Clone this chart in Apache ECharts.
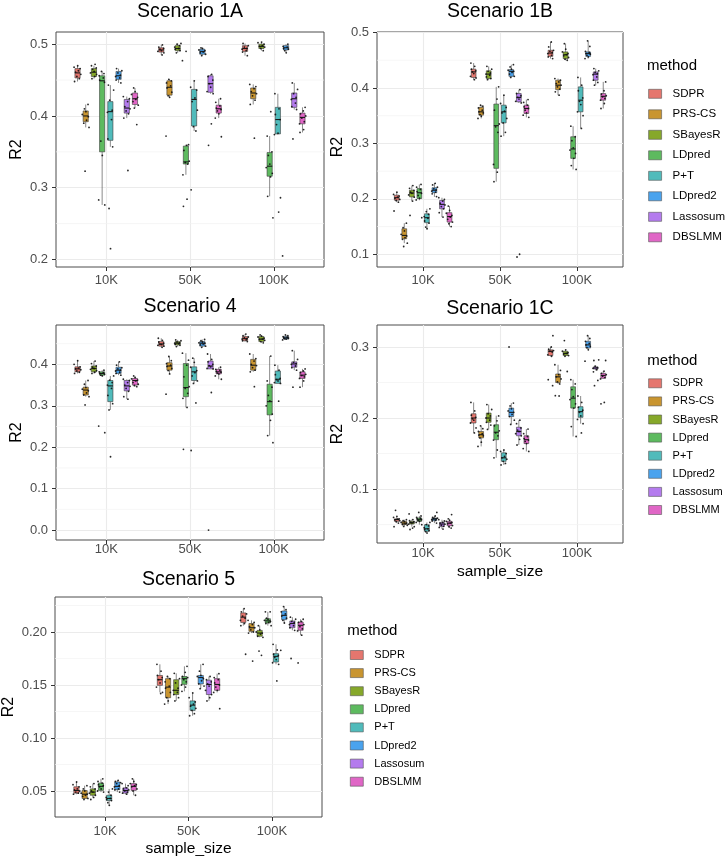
<!DOCTYPE html>
<html><head><meta charset="utf-8">
<script src="https://cdn.jsdelivr.net/npm/echarts@6/dist/echarts.min.js"></script>
<style>html,body{margin:0;padding:0;background:#fff}#c{width:727px;height:856px}</style>
</head><body><div id="c"></div>
<script>
// ---------------- data ----------------
const methods = ['SDPR','PRS-CS','SBayesR','LDpred','P+T','LDpred2','Lassosum','DBSLMM'];
const sampleSizes = ['10K','50K','100K'];
const colors = ['#E5766E','#C99530','#86A82A','#5DBA5F','#50BBBB','#4AA3EE','#B47BEE','#E066C6'];

// box stats per method, per sample size: [lower whisker, Q1, median, Q3, upper whisker]
const box1A = [
 [[0.448,0.453,0.460,0.466,0.470],[0.485,0.489,0.492,0.495,0.499],[0.484,0.490,0.494,0.498,0.501]],
 [[0.384,0.392,0.400,0.407,0.416],[0.426,0.429,0.440,0.449,0.451],[0.416,0.424,0.432,0.439,0.444]],
 [[0.452,0.455,0.461,0.466,0.470],[0.488,0.491,0.494,0.498,0.501],[0.491,0.494,0.497,0.500,0.503]],
 [[0.276,0.350,0.449,0.456,0.462],[0.318,0.333,0.336,0.358,0.360],[0.288,0.316,0.330,0.349,0.372]],
 [[0.357,0.366,0.406,0.420,0.443],[0.379,0.386,0.423,0.437,0.449],[0.374,0.375,0.395,0.412,0.431]],
 [[0.446,0.451,0.456,0.462,0.466],[0.484,0.486,0.490,0.493,0.495],[0.488,0.492,0.495,0.498,0.500]],
 [[0.397,0.404,0.411,0.423,0.427],[0.431,0.433,0.445,0.456,0.458],[0.409,0.412,0.424,0.432,0.446]],
 [[0.411,0.416,0.424,0.432,0.439],[0.397,0.404,0.410,0.415,0.424],[0.377,0.389,0.398,0.404,0.412]]
];
const pts1A = [
 [[0.448,0.452,0.455,0.458,0.461,0.463,0.466,0.468,0.470],[0.485,0.488,0.490,0.491,0.493,0.494,0.496,0.499],[0.484,0.489,0.491,0.493,0.494,0.496,0.498,0.501]],
 [[0.323,0.384,0.390,0.394,0.399,0.402,0.406,0.410,0.416],[0.372,0.426,0.428,0.433,0.439,0.442,0.446,0.449,0.451],[0.369,0.416,0.422,0.428,0.431,0.434,0.438,0.441,0.444]],
 [[0.452,0.455,0.458,0.460,0.462,0.465,0.467,0.470,0.472],[0.488,0.491,0.493,0.494,0.496,0.498,0.500,0.501],[0.491,0.494,0.496,0.497,0.498,0.500,0.502,0.503]],
 [[0.276,0.283,0.345,0.365,0.447,0.450,0.453,0.456,0.459,0.462],[0.274,0.284,0.318,0.333,0.335,0.337,0.352,0.359,0.360,0.477,0.490],[0.258,0.288,0.315,0.320,0.328,0.333,0.345,0.350,0.372,0.406]],
 [[0.215,0.271,0.357,0.368,0.395,0.405,0.408,0.422,0.436,0.443],[0.297,0.379,0.385,0.408,0.420,0.425,0.436,0.440,0.449],[0.266,0.286,0.374,0.376,0.388,0.395,0.402,0.410,0.431]],
 [[0.446,0.450,0.453,0.455,0.457,0.460,0.463,0.466],[0.484,0.486,0.488,0.489,0.491,0.492,0.494,0.495],[0.205,0.488,0.491,0.493,0.494,0.496,0.497,0.500]],
 [[0.324,0.397,0.403,0.407,0.410,0.413,0.420,0.424,0.427],[0.359,0.389,0.431,0.434,0.440,0.445,0.450,0.455,0.458],[0.368,0.409,0.413,0.418,0.423,0.426,0.431,0.437,0.446]],
 [[0.388,0.411,0.415,0.420,0.423,0.426,0.430,0.434,0.439],[0.371,0.397,0.403,0.407,0.409,0.411,0.414,0.419,0.424],[0.377,0.381,0.389,0.392,0.397,0.400,0.403,0.407,0.412]]
];

const box1B = [
 [[0.194,0.1975,0.202,0.2065,0.212],[0.415,0.419,0.429,0.434,0.445],[0.453,0.457,0.463,0.468,0.483]],
 [[0.120,0.128,0.134,0.146,0.156],[0.345,0.351,0.357,0.365,0.369],[0.387,0.397,0.405,0.414,0.417]],
 [[0.1955,0.2035,0.2105,0.2155,0.224],[0.415,0.417,0.425,0.431,0.439],[0.450,0.453,0.460,0.465,0.480]],
 [[0.1975,0.2005,0.211,0.2185,0.226],[0.231,0.255,0.332,0.371,0.402],[0.253,0.273,0.290,0.312,0.331]],
 [[0.146,0.157,0.166,0.173,0.182],[0.313,0.337,0.357,0.369,0.387],[0.327,0.357,0.378,0.402,0.419]],
 [[0.2035,0.211,0.2155,0.220,0.2285],[0.419,0.421,0.430,0.433,0.442],[0.453,0.457,0.462,0.465,0.485]],
 [[0.167,0.182,0.190,0.197,0.202],[0.373,0.375,0.383,0.390,0.397],[0.405,0.414,0.425,0.429,0.435]],
 [[0.150,0.158,0.168,0.175,0.187],[0.347,0.354,0.363,0.369,0.379],[0.363,0.378,0.385,0.390,0.411]]
];
const pts1B = [
 [[0.178,0.194,0.197,0.199,0.201,0.203,0.205,0.208,0.212],[0.415,0.418,0.421,0.426,0.429,0.431,0.434,0.439,0.445],[0.453,0.456,0.459,0.462,0.464,0.466,0.468,0.474,0.483]],
 [[0.114,0.120,0.127,0.130,0.133,0.136,0.142,0.148,0.156],[0.345,0.349,0.352,0.355,0.357,0.360,0.364,0.367,0.369],[0.387,0.393,0.398,0.402,0.405,0.408,0.411,0.414,0.417]],
 [[0.170,0.196,0.203,0.207,0.210,0.212,0.215,0.219,0.224],[0.415,0.417,0.420,0.423,0.425,0.427,0.430,0.434,0.439],[0.450,0.452,0.455,0.458,0.460,0.462,0.465,0.470,0.480]],
 [[0.166,0.198,0.201,0.206,0.210,0.213,0.217,0.221,0.226],[0.231,0.248,0.262,0.320,0.330,0.335,0.360,0.380,0.402],[0.253,0.260,0.273,0.282,0.288,0.292,0.305,0.312,0.331]],
 [[0.146,0.149,0.156,0.160,0.165,0.168,0.172,0.177,0.182],[0.313,0.320,0.337,0.345,0.355,0.358,0.365,0.372,0.387],[0.327,0.350,0.357,0.370,0.376,0.382,0.395,0.405,0.419]],
 [[0.204,0.209,0.212,0.214,0.216,0.218,0.221,0.225,0.228],[0.419,0.421,0.425,0.428,0.430,0.432,0.434,0.438,0.442],[0.453,0.456,0.459,0.461,0.462,0.464,0.466,0.475,0.485]],
 [[0.167,0.175,0.182,0.186,0.189,0.192,0.196,0.199,0.202],[0.095,0.100,0.373,0.376,0.380,0.383,0.386,0.390,0.397],[0.405,0.410,0.414,0.420,0.424,0.426,0.428,0.431,0.435]],
 [[0.150,0.155,0.158,0.163,0.167,0.170,0.174,0.179,0.187],[0.347,0.351,0.355,0.360,0.363,0.366,0.369,0.374,0.379],[0.363,0.372,0.378,0.381,0.384,0.386,0.389,0.395,0.411]]
];

const box4 = [
 [[0.378,0.382,0.389,0.394,0.409],[0.441,0.444,0.449,0.455,0.463],[0.455,0.457,0.462,0.467,0.473]],
 [[0.322,0.326,0.338,0.345,0.361],[0.377,0.386,0.396,0.404,0.419],[0.382,0.386,0.398,0.412,0.425]],
 [[0.378,0.382,0.390,0.396,0.408],[0.443,0.447,0.451,0.455,0.459],[0.452,0.455,0.461,0.467,0.471]],
 [[0.372,0.374,0.378,0.382,0.386],[0.296,0.322,0.344,0.402,0.427],[0.228,0.278,0.310,0.352,0.420]],
 [[0.290,0.310,0.348,0.361,0.372],[0.354,0.361,0.382,0.394,0.415],[0.354,0.354,0.364,0.384,0.398]],
 [[0.374,0.378,0.386,0.393,0.406],[0.441,0.444,0.451,0.455,0.460],[0.459,0.461,0.464,0.467,0.471]],
 [[0.316,0.336,0.348,0.361,0.364],[0.389,0.389,0.396,0.408,0.425],[0.386,0.393,0.401,0.406,0.433]],
 [[0.346,0.350,0.361,0.366,0.372],[0.364,0.377,0.382,0.388,0.393],[0.345,0.366,0.374,0.382,0.389]]
];
const pts4 = [
 [[0.378,0.381,0.384,0.387,0.389,0.391,0.394,0.400,0.409],[0.441,0.444,0.446,0.448,0.449,0.451,0.454,0.458,0.463],[0.455,0.457,0.459,0.461,0.462,0.464,0.466,0.469,0.473]],
 [[0.302,0.322,0.326,0.331,0.336,0.340,0.344,0.352,0.361],[0.328,0.377,0.385,0.390,0.395,0.398,0.402,0.409,0.419],[0.346,0.382,0.386,0.392,0.397,0.400,0.408,0.414,0.425]],
 [[0.378,0.381,0.385,0.388,0.390,0.393,0.396,0.402,0.408],[0.443,0.446,0.448,0.450,0.451,0.452,0.454,0.457,0.459],[0.452,0.455,0.458,0.460,0.461,0.463,0.466,0.468,0.471]],
 [[0.235,0.251,0.372,0.374,0.376,0.378,0.380,0.382,0.386],[0.195,0.296,0.318,0.330,0.342,0.346,0.370,0.398,0.410,0.427],[0.211,0.228,0.265,0.280,0.300,0.312,0.325,0.345,0.360,0.420]],
 [[0.177,0.290,0.305,0.325,0.342,0.350,0.356,0.362,0.372],[0.192,0.307,0.354,0.360,0.372,0.380,0.385,0.393,0.405,0.415],[0.311,0.354,0.356,0.360,0.363,0.366,0.375,0.386,0.398]],
 [[0.374,0.378,0.381,0.384,0.386,0.389,0.392,0.398,0.406],[0.441,0.444,0.447,0.449,0.451,0.452,0.454,0.457,0.460],[0.459,0.461,0.462,0.463,0.464,0.465,0.467,0.469,0.471]],
 [[0.316,0.322,0.335,0.342,0.347,0.350,0.356,0.361,0.364],[0.000,0.332,0.389,0.390,0.394,0.397,0.400,0.406,0.412,0.425],[0.345,0.386,0.392,0.396,0.400,0.402,0.405,0.412,0.433]],
 [[0.346,0.349,0.352,0.356,0.360,0.362,0.365,0.368,0.372],[0.364,0.372,0.377,0.379,0.381,0.383,0.386,0.388,0.393],[0.345,0.360,0.366,0.370,0.373,0.376,0.380,0.384,0.389]]
];

const box1C = [
 [[0.052,0.0545,0.057,0.058,0.0615],[0.179,0.193,0.200,0.206,0.222],[0.287,0.288,0.294,0.296,0.300]],
 [[0.0474,0.050,0.052,0.0545,0.0568],[0.160,0.172,0.1765,0.181,0.189],[0.248,0.250,0.258,0.262,0.275]],
 [[0.047,0.0507,0.0526,0.0545,0.057],[0.184,0.194,0.200,0.207,0.219],[0.287,0.288,0.291,0.294,0.296]],
 [[0.0498,0.0545,0.0568,0.0592,0.062],[0.144,0.1695,0.180,0.1906,0.2033],[0.174,0.214,0.228,0.244,0.254]],
 [[0.038,0.0404,0.044,0.0498,0.053],[0.134,0.139,0.144,0.151,0.155],[0.192,0.201,0.209,0.216,0.231]],
 [[0.052,0.0554,0.0577,0.0592,0.062],[0.191,0.202,0.208,0.214,0.221],[0.296,0.2986,0.303,0.308,0.316]],
 [[0.0436,0.0474,0.0507,0.053,0.0568],[0.162,0.175,0.181,0.187,0.197],[0.267,0.269,0.2705,0.272,0.274]],
 [[0.045,0.0483,0.052,0.0545,0.058],[0.153,0.164,0.1695,0.175,0.1845],[0.255,0.256,0.260,0.263,0.266]]
];
const pts1C = [
 [[0.047,0.052,0.054,0.0555,0.0565,0.0575,0.058,0.060,0.0615,0.070],[0.179,0.186,0.193,0.197,0.199,0.201,0.204,0.210,0.222],[0.2455,0.254,0.287,0.289,0.293,0.294,0.295,0.297,0.300,0.316]],
 [[0.0474,0.049,0.050,0.051,0.052,0.053,0.054,0.0555,0.0568],[0.160,0.166,0.172,0.175,0.176,0.178,0.181,0.185,0.189],[0.231,0.2315,0.248,0.251,0.255,0.258,0.261,0.267,0.275]],
 [[0.043,0.045,0.047,0.0505,0.052,0.053,0.054,0.0555,0.057,0.065],[0.184,0.190,0.194,0.197,0.200,0.203,0.206,0.212,0.219],[0.2655,0.287,0.288,0.290,0.291,0.292,0.294,0.296,0.309]],
 [[0.0498,0.053,0.0545,0.056,0.057,0.058,0.059,0.060,0.062,0.067],[0.144,0.155,0.169,0.175,0.179,0.182,0.189,0.196,0.203],[0.174,0.188,0.214,0.220,0.226,0.230,0.240,0.248,0.254]],
 [[0.038,0.040,0.0415,0.043,0.044,0.0455,0.048,0.050,0.053],[0.134,0.136,0.139,0.142,0.144,0.146,0.150,0.153,0.155],[0.179,0.192,0.198,0.203,0.208,0.211,0.215,0.222,0.231]],
 [[0.052,0.055,0.056,0.057,0.058,0.0585,0.059,0.060,0.062,0.067],[0.191,0.197,0.202,0.205,0.208,0.210,0.213,0.217,0.221,0.300],[0.280,0.296,0.299,0.301,0.303,0.305,0.308,0.312,0.316]],
 [[0.0436,0.046,0.0475,0.049,0.0505,0.052,0.053,0.055,0.0568],[0.162,0.170,0.175,0.178,0.181,0.183,0.186,0.192,0.197],[0.2455,0.253,0.265,0.268,0.270,0.271,0.273,0.282,0.281]],
 [[0.045,0.047,0.0485,0.051,0.052,0.053,0.0545,0.056,0.058,0.064],[0.153,0.157,0.164,0.167,0.169,0.171,0.174,0.178,0.1845],[0.220,0.222,0.255,0.257,0.259,0.261,0.263,0.266,0.281]]
];

const box5 = [
 [[0.047,0.048,0.0505,0.054,0.0585],[0.143,0.1497,0.155,0.159,0.1695],[0.206,0.209,0.214,0.218,0.222]],
 [[0.042,0.043,0.047,0.0505,0.055],[0.132,0.138,0.148,0.156,0.158],[0.199,0.2006,0.204,0.208,0.211]],
 [[0.044,0.046,0.049,0.052,0.057],[0.135,0.141,0.145,0.155,0.161],[0.195,0.196,0.199,0.2015,0.206]],
 [[0.049,0.0506,0.0544,0.0575,0.0615],[0.144,0.1506,0.156,0.158,0.1676],[0.206,0.2085,0.2105,0.2125,0.219]],
 [[0.0365,0.041,0.043,0.046,0.052],[0.121,0.126,0.131,0.135,0.1425],[0.1695,0.1717,0.177,0.1796,0.1884]],
 [[0.049,0.0513,0.0544,0.0585,0.060],[0.1465,0.151,0.157,0.159,0.1695],[0.2085,0.2116,0.2157,0.2198,0.224]],
 [[0.047,0.048,0.0505,0.053,0.057],[0.135,0.141,0.1505,0.1545,0.158],[0.2016,0.204,0.208,0.2104,0.214]],
 [[0.046,0.0506,0.0544,0.057,0.0615],[0.143,0.145,0.1505,0.156,0.1607],[0.197,0.2016,0.2063,0.2094,0.212]]
];
const pts5 = [
 [[0.047,0.048,0.049,0.050,0.051,0.052,0.054,0.056,0.0585],[0.142,0.143,0.148,0.152,0.155,0.157,0.159,0.163,0.1695],[0.179,0.206,0.208,0.211,0.213,0.215,0.217,0.219,0.222]],
 [[0.042,0.043,0.045,0.046,0.047,0.048,0.050,0.052,0.055],[0.132,0.135,0.138,0.143,0.147,0.149,0.153,0.156,0.158],[0.1726,0.199,0.200,0.202,0.204,0.205,0.207,0.209,0.211]],
 [[0.042,0.044,0.046,0.048,0.049,0.050,0.052,0.054,0.057],[0.135,0.138,0.141,0.143,0.145,0.147,0.152,0.156,0.161],[0.178,0.182,0.195,0.196,0.198,0.199,0.200,0.202,0.206]],
 [[0.049,0.050,0.052,0.054,0.055,0.056,0.0575,0.059,0.0615],[0.144,0.148,0.150,0.153,0.155,0.157,0.158,0.162,0.1676],[0.206,0.208,0.209,0.210,0.211,0.212,0.213,0.219,0.219]],
 [[0.0365,0.039,0.041,0.042,0.043,0.044,0.046,0.049,0.052],[0.121,0.123,0.126,0.128,0.130,0.132,0.134,0.138,0.1425],[0.1538,0.1695,0.171,0.174,0.176,0.178,0.179,0.183,0.1884]],
 [[0.049,0.051,0.052,0.054,0.055,0.057,0.058,0.059,0.060],[0.1465,0.149,0.151,0.154,0.156,0.158,0.159,0.163,0.1695],[0.1827,0.2085,0.211,0.213,0.215,0.217,0.219,0.221,0.224]],
 [[0.047,0.048,0.049,0.050,0.051,0.052,0.053,0.055,0.057],[0.135,0.138,0.141,0.145,0.149,0.151,0.153,0.155,0.158],[0.175,0.2016,0.204,0.206,0.207,0.209,0.210,0.212,0.214]],
 [[0.046,0.050,0.052,0.054,0.055,0.056,0.057,0.059,0.0615],[0.1277,0.143,0.145,0.148,0.150,0.152,0.155,0.157,0.1607],[0.1708,0.197,0.201,0.203,0.205,0.207,0.209,0.210,0.212]]
];

// tick values
const yTicks1A = [0.2,0.3,0.4,0.5];            const yMinor1A = [0.25,0.35,0.45];
const yTicks1B = [0.1,0.2,0.3,0.4,0.5];        const yMinor1B = [0.15,0.25,0.35,0.45];
const yTicks4  = [0.0,0.1,0.2,0.3,0.4];        const yMinor4  = [0.05,0.15,0.25,0.35,0.45];
const yTicks1C = [0.1,0.2,0.3];                const yMinor1C = [0.05,0.15,0.25];
const yTicks5  = [0.05,0.10,0.15,0.20];        const yMinor5  = [0.075,0.125,0.175,0.225];
const xTicks = [1,2,3];

// ---------------- layout / style ----------------
const FONT = '"Liberation Sans", Arial, Helvetica, sans-serif';
const DODGE = 0.098;     // distance between dodged boxes (x units)
const BOX_HALF = 0.031;  // half box width (x units)
const JITTER = [-0.36,0.22,-0.08,0.40,-0.24,0.10,0.32,-0.42,0.02,-0.16,0.28,-0.30,0.14]; // in DODGE units

const panels = [
 {title:'Scenario 1A', box:box1A, pts:pts1A, yT:yTicks1A, yM:yMinor1A, dec:1, yr:[0.1895,0.517],
  grid:{left:56,top:32,width:268,height:235}, tY:12, r2:[16.7,149.5], xm:7, xt:null},
 {title:'Scenario 1B', box:box1B, pts:pts1B, yT:yTicks1B, yM:yMinor1B, dec:1, yr:[0.077,0.501],
  grid:{left:377,top:32,width:246,height:235}, tY:12, r2:[338,147], xm:7, xt:null},
 {title:'Scenario 4', box:box4, pts:pts4, yT:yTicks4, yM:yMinor4, dec:1, yr:[-0.024,0.495],
  grid:{left:56,top:325,width:268,height:215}, tY:307, r2:[16.7,432.5], xm:3, xt:null},
 {title:'Scenario 1C', box:box1C, pts:pts1C, yT:yTicks1C, yM:yMinor1C, dec:1, yr:[0.024,0.331],
  grid:{left:377,top:325,width:246,height:218}, tY:308.5, r2:[338,434], xm:3.5, xt:572},
 {title:'Scenario 5', box:box5, pts:pts5, yT:yTicks5, yM:yMinor5, dec:2, yr:[0.0255,0.233],
  grid:{left:55,top:597,width:267,height:220}, tY:579.5, r2:[8.5,707], xm:7.5, xt:849}
];

function renderBox(params, api) {
  const x = api.value(0);
  const lo = api.coord([x, api.value(1)]);
  const q1 = api.coord([x, api.value(2)]);
  const md = api.coord([x, api.value(3)]);
  const q3 = api.coord([x, api.value(4)]);
  const hi = api.coord([x, api.value(5)]);
  const hw = api.size([BOX_HALF, 0])[0];
  const color = api.visual('color');
  const ls = {stroke:'#3a3a3a', lineWidth:0.6};
  return {type:'group', children:[
    {type:'line', shape:{x1:lo[0],y1:lo[1],x2:q1[0],y2:q1[1]}, style:ls},
    {type:'line', shape:{x1:q3[0],y1:q3[1],x2:hi[0],y2:hi[1]}, style:ls},
    {type:'rect', shape:{x:q1[0]-hw, y:q3[1], width:2*hw, height:Math.max(q1[1]-q3[1],0.8)}, style:{fill:color, stroke:'#3a3a3a', lineWidth:0.6}},
    {type:'line', shape:{x1:md[0]-hw,y1:md[1],x2:md[0]+hw,y2:md[1]}, style:{stroke:'#1a1a1a', lineWidth:1.1}}
  ]};
}

function renderMinor(params, api) {
  const cs = params.coordSys;
  const y = api.coord([1, api.value(0)])[1];
  return {type:'line', shape:{x1:cs.x, y1:y, x2:cs.x+cs.width, y2:y}, style:{stroke:'#F2F2F2', lineWidth:0.7}};
}

const grid=[], xAxis=[], yAxis=[], series=[], graphic=[];
const tickLabel = {color:'#4D4D4D', fontSize:13, fontFamily:FONT};
function txt(text, x, y, size, extra) {
  return Object.assign({type:'text', x:x, y:y, silent:true, z:10,
    style:{text:text, fill:'#000', fontSize:size, fontFamily:FONT, align:'center', verticalAlign:'middle'}}, extra||{});
}

panels.forEach((p,i)=>{
  grid.push(Object.assign({show:true, borderColor:'#4D4D4D', borderWidth:1, backgroundColor:'#fff'}, p.grid));
  xAxis.push({type:'value', gridIndex:i, min:0.4, max:3.6,
    axisLine:{show:false, onZero:false},
    axisTick:{show:true, customValues:xTicks, length:4, lineStyle:{color:'#333', width:1}},
    axisLabel:Object.assign({customValues:xTicks, margin:p.xm, formatter:v=>sampleSizes[Math.round(v)-1]}, tickLabel),
    splitLine:{show:true, lineStyle:{color:'#EBEBEB', width:1.1}}});
  yAxis.push({type:'value', gridIndex:i, min:p.yr[0], max:p.yr[1],
    axisLine:{show:false, onZero:false},
    axisTick:{show:true, customValues:p.yT, length:4, lineStyle:{color:'#333', width:1}},
    axisLabel:Object.assign({customValues:p.yT, margin:8, formatter:v=>v.toFixed(p.dec)}, tickLabel),
    splitLine:{show:true, lineStyle:{color:'#EBEBEB', width:1.1}}});
  series.push({type:'custom', xAxisIndex:i, yAxisIndex:i, z:1, silent:true,
    data:p.yM.map(v=>[v]), encode:{y:0}, renderItem:renderMinor});
  methods.forEach((m,mi)=>{
    series.push({type:'custom', name:m, xAxisIndex:i, yAxisIndex:i, z:3, silent:true,
      itemStyle:{color:colors[mi]},
      data:sampleSizes.map((s,k)=>[k+1+(mi-3.5)*DODGE].concat(p.box[mi][k])),
      encode:{x:0, y:[1,2,3,4,5]}, renderItem:renderBox});
  });
  const pd=[];
  methods.forEach((m,mi)=>sampleSizes.forEach((s,k)=>p.pts[mi][k].forEach((v,j)=>{
    pd.push([k+1+(mi-3.5)*DODGE + JITTER[(j+mi*2+k*5)%JITTER.length]*DODGE, v]);
  })));
  series.push({type:'scatter', xAxisIndex:i, yAxisIndex:i, z:4, silent:true, symbolSize:1.8,
    itemStyle:{color:'#111', opacity:0.9}, data:pd});

  const cx = p.grid.left + p.grid.width/2;
  graphic.push(txt(p.title, cx, p.tY, 19.5));
  graphic.push(txt('R2', p.r2[0], p.r2[1], 16, {rotation:Math.PI/2}));
  if (p.xt) graphic.push(txt('sample_size', cx, p.xt, 15.5));
});

const legendSpecs = [
  {left:648.3, top:87.8, gap:8.5, fs:11.5, tx:647, ty:66},
  {left:648.3, top:377.8, gap:7.1, fs:11, tx:647.3, ty:360.7},
  {left:350, top:649.5, gap:7.1, fs:11, tx:347.3, ty:630.7}
];
const legend = legendSpecs.map(L=>({
  orient:'vertical', left:L.left, top:L.top, padding:0, itemWidth:13, itemHeight:9, itemGap:L.gap,
  selectedMode:false, icon:'rect', itemStyle:{borderColor:'#555', borderWidth:0.6},
  textStyle:{fontSize:L.fs, lineHeight:11, color:'#000', fontFamily:FONT, padding:[0,0,0,6]},
  data:methods.map((m,mi)=>({name:m, icon:'rect', itemStyle:{color:colors[mi], borderColor:'#555', borderWidth:0.6}}))
}));
legendSpecs.forEach(L=>graphic.push(txt('method', L.tx, L.ty, 15, {style:{text:'method', fill:'#000', fontSize:15, fontFamily:FONT, align:'left', verticalAlign:'middle'}})));

const chart = echarts.init(document.getElementById('c'), null, {renderer:'canvas'});
chart.setOption({animation:false, backgroundColor:'#fff', grid, xAxis, yAxis, series, legend, graphic});
</script></body></html>
